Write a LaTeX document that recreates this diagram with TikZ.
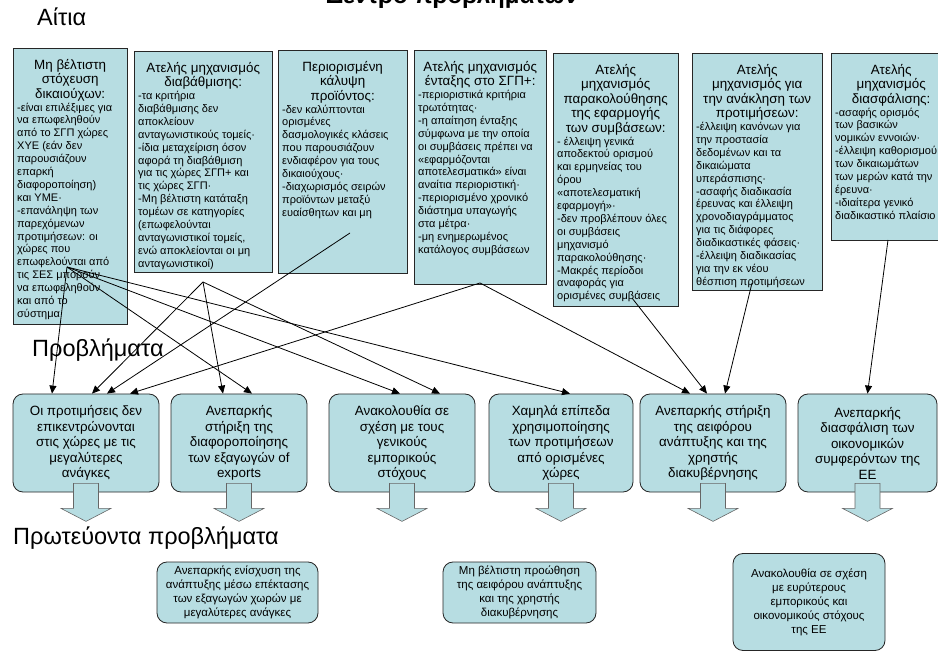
\documentclass[tikz,border=0pt]{standalone}
\usepackage{fontspec}
\setmainfont{Liberation Sans}
\usetikzlibrary{arrows.meta,shadows}

\definecolor{boxblue}{RGB}{183,221,226}

\newcommand{\causetext}[4]{%
    \parbox[c][#2][t]{#1}{\centering\fontsize{13.4}{14.5}\selectfont\rule{0pt}{18pt}#3\par
        \raggedright\fontsize{11}{12.9}\selectfont #4\par}}

\tikzset{
    cause/.style={draw=black!85, fill=boxblue, anchor=north west, inner xsep=4pt, inner ysep=3pt,
        drop shadow={shadow xshift=1.2pt, shadow yshift=-1.2pt, fill=black!45, opacity=1}},
    problem/.style={draw=black!85, fill=boxblue, rounded corners=10pt, align=center, thick,
        font=\fontsize{13.4}{15.5}\selectfont, inner sep=2pt, minimum height=98pt},
    result/.style={draw=black!85, fill=boxblue, rounded corners=10pt, align=center, thick,
        font=\fontsize{11.5}{14}\selectfont, inner sep=2pt},
    heading/.style={anchor=base west, inner sep=0pt, font=\fontsize{23.5}{27}\selectfont},
    link/.style={-{Triangle[length=8pt,width=7pt]}, line width=0.8pt},
    blockarrow/.style={fill=boxblue, draw=black!60, line width=0.6pt},
}

\begin{document}
\begin{tikzpicture}[x=1pt, y=-1pt]
        \useasboundingbox (0,0) rectangle (938,652);

        \node[anchor=base, inner sep=0pt, font=\bfseries\fontsize{24}{28}\selectfont] (titlos) at (452,4) {Δέντρο προβλημάτων};
        \node[heading] (aitia) at (37,26) {Αίτια};
        \node[heading] (provlimata) at (32,357) {Προβλήματα};
        \node[heading] (protevonta) at (13,544) {Πρωτεύοντα προβλήματα};

        % aities
        \node[cause] (c1) at (13,48) {\causetext{106pt}{270pt}{Μη βέλτιστη\\ στόχευση\\ δικαιούχων:}{%
            -είναι επιλέξιμες για\\ να επωφεληθούν\\ από το ΣΓΠ χώρες\\ ΧΥΕ (εάν δεν\\ παρουσιάζουν\\ επαρκή\\ διαφοροποίηση)\\ και ΥΜΕ·\\ -επανάληψη των\\ παρεχόμενων\\ προτιμήσεων: οι\\ χώρες που\\ επωφελούνται από\\ τις ΣΕΣ μπορούν\\ να επωφεληθούν\\ και από το\\ σύστημα}};
        \node[cause] (c2) at (134,51) {\causetext{130pt}{215pt}{Ατελής μηχανισμός\\ διαβάθμισης:}{%
            -τα κριτήρια\\ διαβάθμισης δεν\\ αποκλείουν\\ ανταγωνιστικούς τομείς·\\ -ίδια μεταχείριση όσον\\ αφορά τη διαβάθμιση\\ για τις χώρες ΣΓΠ+ και\\ τις χώρες ΣΓΠ·\\ -Μη βέλτιστη κατάταξη\\ τομέων σε κατηγορίες\\ (επωφελούνται\\ ανταγωνιστικοί τομείς,\\ ενώ αποκλείονται οι μη\\ ανταγωνιστικοί)}};
        \node[cause] (c3) at (278,50) {\causetext{121pt}{217pt}{Περιορισμένη\\ κάλυψη\\ προϊόντος:}{%
            -δεν καλύπτονται\\ ορισμένες\\ δασμολογικές κλάσεις\\ που παρουσιάζουν\\ ενδιαφέρον για τους\\ δικαιούχους·\\ -διαχωρισμός σειρών\\ προϊόντων μεταξύ\\ ευαίσθητων και μη}};
        \node[cause] (c4) at (414,50) {\causetext{124pt}{228pt}{Ατελής μηχανισμός\\ ένταξης στο ΣΓΠ+:}{%
            -περιοριστικά κριτήρια\\ τρωτότητας·\\ -η απαίτηση ένταξης\\ σύμφωνα με την οποία\\ οι συμβάσεις πρέπει να\\ «εφαρμόζονται\\ αποτελεσματικά» είναι\\ αναίτια περιοριστική·\\ -περιορισμένο χρονικό\\ διάστημα υπαγωγής\\ στα μέτρα·\\ -μη ενημερωμένος\\ κατάλογος συμβάσεων}};
        \node[cause] (c5) at (553,53) {\causetext{117pt}{247pt}{Ατελής\\ μηχανισμός\\ παρακολούθησης\\ της εφαρμογής\\ των συμβάσεων:}{%
            - έλλειψη γενικά\\ αποδεκτού ορισμού\\ και ερμηνείας του\\ όρου\\ «αποτελεσματική\\ εφαρμογή»·\\ -δεν προβλέπουν όλες\\ οι συμβάσεις\\ μηχανισμό\\ παρακολούθησης·\\ -Μακρές περίοδοι\\ αναφοράς για\\ ορισμένες συμβάσεις}};
        \node[cause] (c6) at (692,53) {\causetext{122pt}{231pt}{Ατελής\\ μηχανισμός για\\ την ανάκληση των\\ προτιμήσεων:}{%
            -έλλειψη κανόνων για\\ την προστασία\\ δεδομένων και τα\\ δικαιώματα\\ υπεράσπισης·\\ -ασαφής διαδικασία\\ έρευνας και έλλειψη\\ χρονοδιαγράμματος\\ για τις διάφορες\\ διαδικαστικές φάσεις·\\ -έλλειψη διαδικασίας\\ για την εκ νέου\\ θέσπιση προτιμήσεων}};
        \node[cause] (c7) at (831,53) {\causetext{112pt}{181pt}{Ατελής\\ μηχανισμός\\ διασφάλισης:}{%
            -ασαφής ορισμός\\ των βασικών\\ νομικών εννοιών·\\ -έλλειψη καθορισμού\\ των δικαιωμάτων\\ των μερών κατά την\\ έρευνα·\\ -ιδιαίτερα γενικό\\ διαδικαστικό πλαίσιο}};

        % provlimata
        \node[problem, minimum width=146pt] (p1) at (86,443) {Οι προτιμήσεις δεν\\ επικεντρώνονται\\ στις χώρες με τις\\ μεγαλύτερες\\ ανάγκες};
        \node[problem, minimum width=136pt] (p2) at (239,443) {Ανεπαρκής\\ στήριξη της\\ διαφοροποίησης\\ των εξαγωγών of\\ exports};
        \node[problem, minimum width=146pt] (p3) at (402,443) {Ανακολουθία σε\\ σχέση με τους\\ γενικούς\\ εμπορικούς\\ στόχους};
        \node[problem, minimum width=144pt] (p4) at (561,443) {Χαμηλά επίπεδα\\ χρησιμοποίησης\\ των προτιμήσεων\\ από ορισμένες\\ χώρες};
        \node[problem, minimum width=146pt] (p5) at (713,443) {Ανεπαρκής στήριξη\\ της αειφόρου\\ ανάπτυξης και της\\ χρηστής\\ διακυβέρνησης};
        \node[problem, minimum width=139pt] (p6) at (867.5,443) {Ανεπαρκής\\ διασφάλιση των\\ οικονομικών\\ συμφερόντων της\\ ΕΕ};

        \foreach \p in {p1,p2,p3,p4,p5,p6}
            \draw[blockarrow] ([xshift=-12.5pt,yshift=9pt]\p.south) -- ++(0,25) -- ++(-12.5,0) -- ++(25,13)
                -- ++(25,-13) -- ++(-12.5,0) -- ++(0,-25) -- cycle;

        % protevonta provlimata
        \node[result, minimum width=161pt, minimum height=61pt] (r1) at (237.5,592.5) {Ανεπαρκής ενίσχυση της\\ ανάπτυξης μέσω επέκτασης\\ των εξαγωγών χωρών με\\ μεγαλύτερες ανάγκες};
        \node[result, minimum width=153pt, minimum height=61pt] (r2) at (519.5,592.5) {Μη βέλτιστη προώθηση\\ της αειφόρου ανάπτυξης\\ και της χρηστής\\ διακυβέρνησης};
        \node[result, minimum width=152pt, minimum height=97pt] (r3) at (809,602) {Ανακολουθία σε σχέση\\ με ευρύτερους\\ εμπορικούς και\\ οικονομικούς στόχους\\ της ΕΕ};

        \coordinate (s1) at (67,267);
        \coordinate (s2) at (203,282);
        \coordinate (s3) at (350,233);
        \coordinate (s4) at (480,283);
        \coordinate (s5) at (632,298);
        \coordinate (s6) at (752,283);
        \coordinate (s7) at (888,240);

        \draw[link] (s1) -- ([xshift=-34pt]p1.north);
        \draw[link] (s1) -- ([xshift=13pt]p2.north);
        \draw[link] (s1) -- ([xshift=-2pt]p3.north);
        \draw[link] (s1) -- ([xshift=9pt]p4.north);
        \draw[link] (s2) -- ([xshift=6pt]p1.north);
        \draw[link] (s2) -- ([xshift=-16pt]p2.north);
        \draw[link] (s2) -- ([xshift=38pt]p3.north);
        \draw[link] (s3) -- ([xshift=21pt]p1.north);
        \draw[link] (s4) -- ([xshift=44pt]p1.north);
        \draw[link] (s4) -- ([xshift=-23pt]p5.north);
        \draw[link] (s5) -- ([xshift=-6pt]p5.north);
        \draw[link] (s6) -- ([xshift=12pt]p5.north);
        \draw[link] (s7) -- (p6.north);

    \end{tikzpicture}
\end{document}
